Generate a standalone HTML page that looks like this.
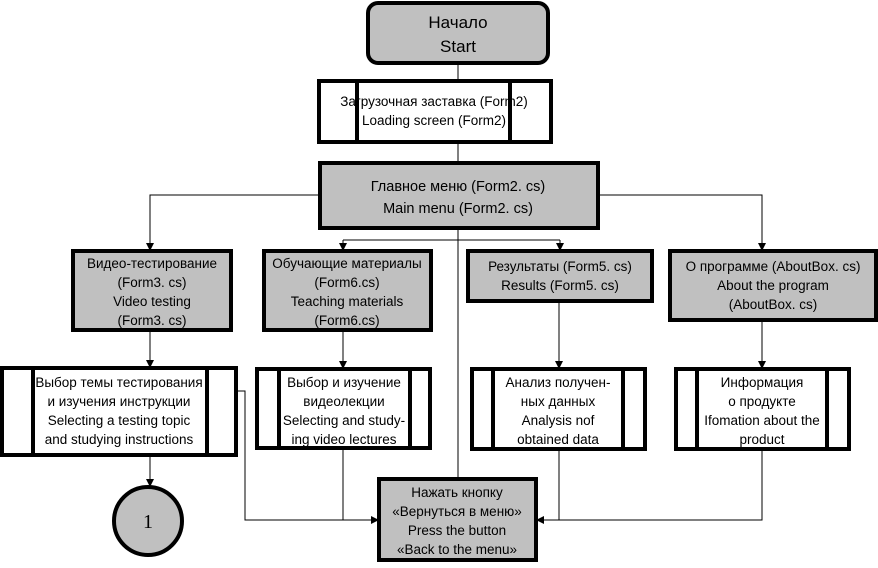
<!DOCTYPE html>
<html><head><meta charset="utf-8"><style>
body{margin:0;background:#fff}
svg text{font-family:"Liberation Sans",sans-serif;font-size:13.5px;text-anchor:middle;fill:#000}
</style></head><body>
<svg width="878" height="563" viewBox="0 0 878 563" xmlns="http://www.w3.org/2000/svg">
<defs><marker id="a" markerWidth="8" markerHeight="8" refX="7" refY="4" orient="auto" markerUnits="userSpaceOnUse"><path d="M0,0 L8,4 L0,8 z" fill="#000"/></marker></defs>
<g stroke="#000" stroke-width="1" fill="none">
<line x1="458" y1="63" x2="458" y2="80"/>
<line x1="458" y1="142" x2="458" y2="162"/>
<line x1="458" y1="228" x2="458" y2="477"/>
<polyline points="319,195 150,195 150,250" marker-end="url(#a)"/>
<polyline points="598,195 762,195 762,250" marker-end="url(#a)"/>
<line x1="343" y1="240" x2="560" y2="240"/>
<line x1="343" y1="240" x2="343" y2="250" marker-end="url(#a)"/>
<line x1="560" y1="240" x2="560" y2="250" marker-end="url(#a)"/>
<line x1="150" y1="330" x2="150" y2="367" marker-end="url(#a)"/>
<line x1="343" y1="330" x2="343" y2="368" marker-end="url(#a)"/>
<line x1="559" y1="300" x2="559" y2="368" marker-end="url(#a)"/>
<line x1="762" y1="320" x2="762" y2="368" marker-end="url(#a)"/>
<line x1="150" y1="455" x2="150" y2="486" marker-end="url(#a)"/>
<polyline points="236,391 245,391 245,520 378,520" marker-end="url(#a)"/>
<line x1="343" y1="448" x2="343" y2="520"/>
<line x1="559" y1="449" x2="559" y2="520"/>
<polyline points="762,449 762,520 537,520" marker-end="url(#a)"/>
</g>
<g stroke="#000" stroke-width="4">
<rect x="368" y="3" width="180" height="60" rx="10" fill="#c0c0c0"/>
<rect x="319" y="81" width="232" height="61" fill="#fff"/>
<line x1="357" y1="81" x2="357" y2="142"/><line x1="510" y1="81" x2="510" y2="142"/>
<rect x="320" y="163" width="278" height="65" fill="#c0c0c0"/>
<rect x="73" y="251" width="158" height="79" fill="#c0c0c0"/>
<rect x="264" y="251" width="167" height="79" fill="#c0c0c0"/>
<rect x="468" y="251" width="184" height="50" fill="#c0c0c0"/>
<rect x="670" y="251" width="206" height="69" fill="#c0c0c0"/>
<rect x="2" y="368" width="234" height="87" fill="#fff"/>
<line x1="33" y1="368" x2="33" y2="455"/><line x1="207" y1="368" x2="207" y2="455"/>
<rect x="257" y="369" width="173" height="79" fill="#fff"/>
<line x1="279" y1="369" x2="279" y2="448"/><line x1="410" y1="369" x2="410" y2="448"/>
<rect x="472" y="369" width="173" height="80" fill="#fff"/>
<line x1="493" y1="369" x2="493" y2="449"/><line x1="623" y1="369" x2="623" y2="449"/>
<rect x="676" y="369" width="173" height="80" fill="#fff"/>
<line x1="697" y1="369" x2="697" y2="449"/><line x1="827" y1="369" x2="827" y2="449"/>
<rect x="379" y="479" width="157" height="81" fill="#c0c0c0"/>
<circle cx="148" cy="521" r="34" fill="#c0c0c0"/>
</g>
<text x="458" y="28" font-size="17" style="font-size:17px">Начало</text>
<text x="458" y="52" style="font-size:17px">Start</text>
<text x="434" y="106">Загрузочная заставка (Form2)</text>
<text x="434" y="125">Loading screen (Form2)</text>
<text x="458" y="191" style="font-size:14.5px">Главное меню (Form2. cs)</text>
<text x="458" y="213" style="font-size:14.5px">Main menu (Form2. cs)</text>
<text x="152" y="268">Видео-тестирование</text>
<text x="152" y="287">(Form3. cs)</text>
<text x="152" y="306">Video testing</text>
<text x="152" y="325">(Form3. cs)</text>
<text x="347" y="268">Обучающие материалы</text>
<text x="347" y="287">(Form6.cs)</text>
<text x="347" y="306">Teaching materials</text>
<text x="347" y="325">(Form6.cs)</text>
<text x="560" y="271">Результаты (Form5. cs)</text>
<text x="560" y="290">Results  (Form5. cs)</text>
<text x="773" y="271">О программе (AboutBox. cs)</text>
<text x="773" y="290">About the program</text>
<text x="773" y="309">(AboutBox. cs)</text>
<text x="119" y="387">Выбор темы тестирования</text>
<text x="119" y="406">и изучения инструкции</text>
<text x="119" y="425">Selecting a testing topic</text>
<text x="119" y="444">and studying instructions</text>
<text x="344" y="387">Выбор и изучение</text>
<text x="344" y="406">видеолекции</text>
<text x="344" y="425">Selecting and study-</text>
<text x="344" y="444">ing video lectures</text>
<text x="558" y="387">Анализ получен-</text>
<text x="558" y="406">ных данных</text>
<text x="558" y="425">Analysis nof</text>
<text x="558" y="444">obtained data</text>
<text x="762" y="387">Информация</text>
<text x="762" y="406">о продукте</text>
<text x="762" y="425">Ifomation about the</text>
<text x="762" y="444">product</text>
<text x="457" y="497">Нажать кнопку</text>
<text x="457" y="516">«Вернуться в меню»</text>
<text x="457" y="535">Press the button</text>
<text x="457" y="554">«Back to the menu»</text>
<text x="148" y="528" style="font-family:'Liberation Serif',serif;font-size:20px">1</text>
</svg>
</body></html>
